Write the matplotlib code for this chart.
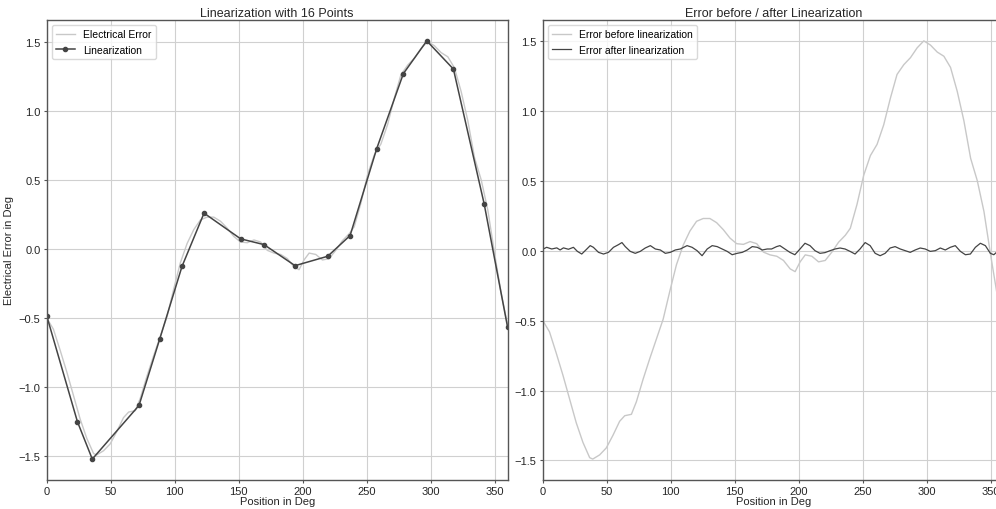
import numpy as np
import matplotlib
matplotlib.use("Agg")
import matplotlib.pyplot as plt

plt.rcParams['font.family'] = ['Liberation Sans', 'DejaVu Sans']

# error before linearization (deg, error in deg)
pos_before = [0, 5.2, 10.4, 15.7, 20.9, 26.1, 31.3, 36.6, 39, 44.4, 49.6, 54.8, 60, 64,
              69.2, 73.1, 78.3, 83.6, 88.8, 94, 99.2, 104.4, 109.7, 114.9, 120.1, 125.3,
              130.5, 135.8, 141, 146.2, 151.4, 156.7, 161.9, 167.1, 172.3, 177.5, 182.8,
              188, 193.2, 197.1, 201, 205, 210.2, 215.4, 220.6, 225.8, 231, 236.3, 240.2,
              245.4, 250.7, 255.9, 261.1, 266.3, 271.5, 276.7, 282, 287.2, 292.4, 297.6,
              302.8, 308.1, 313.3, 318.5, 323.7, 328.9, 334.2, 339.4, 344.6, 349.8, 355, 360]
err_before = [-0.50, -0.58, -0.73, -0.89, -1.06, -1.23, -1.37, -1.48, -1.49, -1.46, -1.41,
              -1.32, -1.22, -1.18, -1.17, -1.08, -0.92, -0.77, -0.63, -0.49, -0.29, -0.10,
              0.04, 0.14, 0.21, 0.23, 0.23, 0.20, 0.15, 0.09, 0.05, 0.045, 0.065, 0.05,
              -0.01, -0.03, -0.04, -0.07, -0.13, -0.15, -0.08, -0.03, -0.04, -0.08, -0.07,
              -0.01, 0.06, 0.11, 0.16, 0.33, 0.54, 0.68, 0.76, 0.90, 1.09, 1.26, 1.33, 1.38,
              1.45, 1.50, 1.47, 1.42, 1.39, 1.31, 1.14, 0.93, 0.66, 0.50, 0.28, -0.03, -0.32,
              -0.55]

# 16 point linearization (support points incl. ends)
pos_lin = [0, 24, 35.6, 72.1, 88.3, 105.7, 122.9, 151.5, 169.8, 194, 219.5, 237, 257.8,
           278.6, 296.9, 317.7, 341.7, 360]
err_lin = [-0.484, -1.25, -1.52, -1.132, -0.651, -0.126, 0.259, 0.073, 0.031, -0.121,
           -0.053, 0.097, 0.726, 1.268, 1.505, 1.301, 0.327, -0.565]

# error after linearization
pos_after = [0.4, 3.0, 7.0, 10.9, 13.5, 16.1, 20, 23.9, 27, 30.4, 34.4, 37, 39.5, 43.5,
             47.4, 51.3, 55.2, 59.1, 61.8, 64.4, 68.3, 72.2, 76.1, 80, 84, 87.9, 91.8,
             95.7, 99.6, 103.5, 107.4, 112.7, 116.6, 120.5, 124.4, 128.4, 132.3, 136.2,
             140.1, 144, 147.9, 151.8, 155.8, 159.7, 163.6, 167.5, 171.4, 175.3, 178.7,
             182.6, 185.2, 189.1, 193, 196.9, 200.9, 204.8, 208.7, 212.6, 216.5, 220.4,
             224.4, 228.3, 232.2, 236.1, 240, 243.9, 247.8, 251.8, 255.7, 259.6, 263.5,
             267.4, 271.3, 275.2, 279.2, 283.1, 287, 290.9, 294.8, 298.7, 302.7, 306.6,
             310.5, 314.4, 318.3, 322.2, 326.2, 330.1, 334, 337.9, 341.8, 345.7, 349.6,
             352.3, 354.4, 360]
err_after = [0.012, 0.024, 0.012, 0.02, 0.005, 0.02, 0.01, 0.024, -0.005, -0.024, 0.012,
             0.036, 0.024, -0.012, -0.024, -0.012, 0.024, 0.043, 0.058, 0.029, -0.005,
             -0.019, -0.005, 0.019, 0.036, 0.012, 0.005, -0.019, -0.012, 0.005, 0.012,
             0.036, 0.024, 0.0, -0.036, 0.012, 0.036, 0.029, 0.012, -0.005, -0.029, -0.019,
             -0.012, 0.005, 0.029, 0.024, 0.005, 0.012, 0.012, 0.029, 0.036, 0.012, -0.012,
             -0.029, 0.012, 0.053, 0.036, 0.0, -0.019, -0.014, 0.0, 0.012, 0.019, 0.012,
             -0.005, -0.024, 0.012, 0.058, 0.036, -0.019, -0.036, -0.019, 0.019, 0.029,
             0.012, 0.0, -0.012, 0.005, 0.019, 0.012, -0.005, 0.0, 0.019, 0.005, 0.024,
             0.036, -0.005, -0.029, -0.024, 0.024, 0.053, 0.036, -0.019, -0.029, -0.012,
             0.0]

light = '#c8c8c8'
dark = '#444444'
txt = '#262626'

fig = plt.figure(figsize=(9.96, 5.10), dpi=100)
ax1 = fig.add_axes([0.0469, 0.0569, 0.4627, 0.902])
ax2 = fig.add_axes([0.545, 0.0569, 0.4627, 0.902])


def style(ax):
    ax.grid(True, color='#d0d0d0', linewidth=0.8)
    ax.set_axisbelow(True)
    for sp in ax.spines.values():
        sp.set_color('#555555')
        sp.set_linewidth(1.0)
    ax.tick_params(labelsize=8, length=2.5, pad=2, color='#555555', labelcolor=txt)
    ax.set_xlim(0, 360)
    ax.set_xticks([0, 50, 100, 150, 200, 250, 300, 350])
    ax.set_yticks([-1.5, -1.0, -0.5, 0.0, 0.5, 1.0, 1.5])


ax1.plot(pos_before, err_before, color=light, linewidth=1, label='Electrical Error')
ax1.plot(pos_lin, err_lin, color=dark, linewidth=1.1, marker='o', markersize=3,
         label='Linearization')
ax1.set_title('Linearization with 16 Points', fontsize=9, color=txt, pad=3)
ax1.set_xlabel('Position in Deg', fontsize=8, color=txt, labelpad=0)
ax1.set_ylabel('Electrical Error in Deg', fontsize=8, color=txt, labelpad=3)
style(ax1)
ax1.legend(loc='upper left', fontsize=7.5, edgecolor='#d0d0d0', handlelength=1.8)

ax2.plot(pos_before, err_before, color=light, linewidth=1, label='Error before linearization')
ax2.plot(pos_after, err_after, color=dark, linewidth=0.9, label='Error after linearization')
ax2.set_title('Error before / after Linearization', fontsize=9, color=txt, pad=3)
ax2.set_xlabel('Position in Deg', fontsize=8, color=txt, labelpad=0)
style(ax2)
ax2.legend(loc='upper left', fontsize=7.5, edgecolor='#d0d0d0', handlelength=1.8)

fig.savefig('out.png', dpi=100)
